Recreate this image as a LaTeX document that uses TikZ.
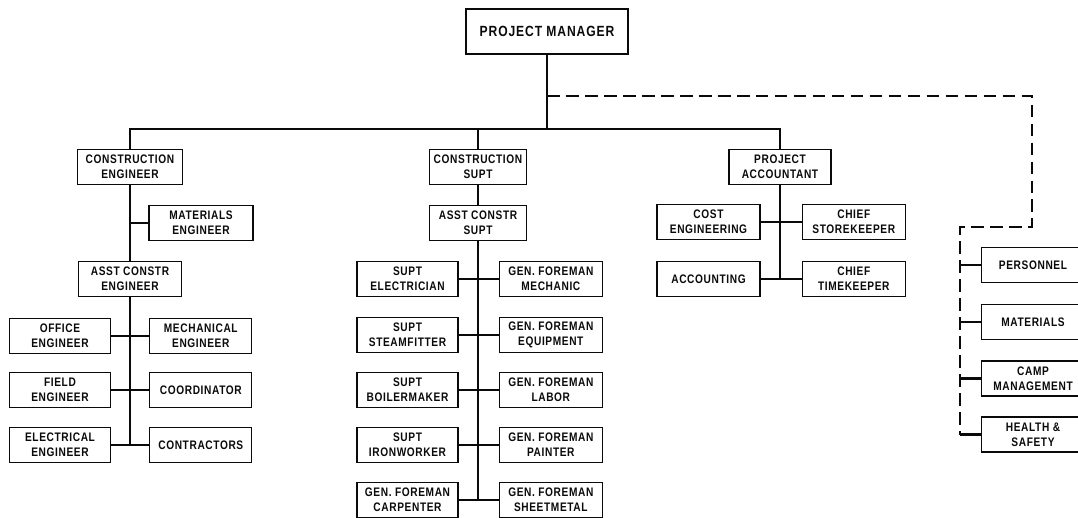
\documentclass[tikz,border=0pt]{standalone}
\usepackage{fontspec}
\setsansfont{Liberation Sans}[FakeStretch=0.82, LetterSpace=5]
\newfontfamily\widesans{Liberation Sans}[FakeStretch=0.82, LetterSpace=6]
\usetikzlibrary{positioning}
\definecolor{clrborder}{HTML}{0A0A0A}
\definecolor{clrtext}{HTML}{0A0A0A}

\begin{document}
\begin{tikzpicture}[
    x=0.025cm, y=-0.025cm,
    every node/.style={font=\sffamily\bfseries},
    block/.style={draw=clrborder, line width=0.9pt, minimum width=2.575cm,
                  minimum height=0.875cm, inner sep=1pt, align=center,
                  font=\sffamily\bfseries\fontsize{8.8}{10.8}\selectfont, text=clrtext},
    link/.style={draw=clrborder, line width=1.5pt},
    dashlink/.style={draw=clrborder, line width=1.5pt, dash pattern=on 9pt off 4.5pt},
]
\clip (0,0) rectangle (1078,518);
% head of the project
\node[block, minimum width=4.05cm, minimum height=1.125cm, font=\widesans\bfseries\fontsize{10.5}{12}\selectfont] (n_pm) at (547,31.5) {PROJECT MANAGER};
\coordinate (tap) at (547,96);
\coordinate (bus) at (547,129);
\coordinate (turn) at (1032,227);
\coordinate (side) at (960,227);
% engineering branch
\node[block, minimum width=2.625cm] (n_ce) at (130,167) {CONSTRUCTION\\ENGINEER};
\node[block, minimum width=2.6cm] (n_me) at (201,223) {MATERIALS\\ENGINEER};
\node[block] (n_ace) at (130,279) {ASST CONSTR\\ENGINEER};
\node[block, minimum width=2.525cm] (n_oe) at (60,336) {OFFICE\\ENGINEER};
\node[block, minimum width=2.55cm, right=0.95cm of n_oe] (n_mech) {MECHANICAL\\ENGINEER};
\node[block, minimum width=2.525cm] (n_fe) at (60,390) {FIELD\\ENGINEER};
\node[block, minimum width=2.55cm, right=0.95cm of n_fe] (n_coord) {COORDINATOR};
\node[block, minimum width=2.525cm] (n_ee) at (60,445) {ELECTRICAL\\ENGINEER};
\node[block, minimum width=2.55cm, right=0.95cm of n_ee] (n_contr) {CONTRACTORS};
% construction branch
\node[block, minimum width=2.425cm] (n_cs) at (478,167) {CONSTRUCTION\\SUPT};
\node[block, minimum width=2.425cm] (n_acs) at (478,223) {ASST CONSTR\\SUPT};
\node[block, minimum width=2.525cm] (n_s1) at (407.5,279) {SUPT\\ELECTRICIAN};
\node[block, right=1cm of n_s1] (n_g1) {GEN. FOREMAN\\MECHANIC};
\node[block, minimum width=2.525cm] (n_s2) at (407.5,335) {SUPT\\STEAMFITTER};
\node[block, right=1cm of n_s2] (n_g2) {GEN. FOREMAN\\EQUIPMENT};
\node[block, minimum width=2.525cm] (n_s3) at (407.5,390) {SUPT\\BOILERMAKER};
\node[block, right=1cm of n_s3] (n_g3) {GEN. FOREMAN\\LABOR};
\node[block, minimum width=2.525cm] (n_s4) at (407.5,445) {SUPT\\IRONWORKER};
\node[block, right=1cm of n_s4] (n_g4) {GEN. FOREMAN\\PAINTER};
\node[block, minimum width=2.525cm] (n_s5) at (407.5,500) {GEN. FOREMAN\\CARPENTER};
\node[block, right=1cm of n_s5] (n_g5) {GEN. FOREMAN\\SHEETMETAL};
% accounting branch
\node[block, minimum width=2.55cm] (n_pa) at (780,167) {PROJECT\\ACCOUNTANT};
\node[block] (n_cost) at (708.5,222) {COST\\ENGINEERING};
\node[block, right=1.025cm of n_cost] (n_store) {CHIEF\\STOREKEEPER};
\node[block] (n_acct) at (708.5,279) {ACCOUNTING};
\node[block, right=1.025cm of n_acct] (n_time) {CHIEF\\TIMEKEEPER};
% staff services
\node[block] (n_pers) at (1033,265) {PERSONNEL};
\node[block] (n_mat) at (1033,322) {MATERIALS};
\node[block] (n_camp) at (1033,378.5) {CAMP\\MANAGEMENT};
\node[block] (n_hs) at (1033,434.5) {HEALTH \&\\SAFETY};
% line connections
\draw[link] (n_pm.south) -- (bus);
\draw[link] (n_ce.north) |- (bus) -| (n_pa.north);
\draw[link] (n_cs.north) -- (n_cs.north |- bus);
\draw[link] (n_ce.south) -- (n_ace.north);
\draw[link] (n_me.west) -- (n_me.west -| n_ce.south);
\draw[link] (n_ace.south) -- (n_ace.south |- n_ee.east);
\draw[link] (n_oe.east) -- (n_mech.west);
\draw[link] (n_fe.east) -- (n_coord.west);
\draw[link] (n_ee.east) -- (n_contr.west);
\draw[link] (n_cs.south) -- (n_acs.north);
\draw[link] (n_acs.south) -- (n_acs.south |- n_s5.east);
\draw[link] (n_s1.east) -- (n_g1.west);
\draw[link] (n_s2.east) -- (n_g2.west);
\draw[link] (n_s3.east) -- (n_g3.west);
\draw[link] (n_s4.east) -- (n_g4.west);
\draw[link] (n_s5.east) -- (n_g5.west);
\draw[link] (n_pa.south) -- (n_pa.south |- n_acct.east);
\draw[link] (n_cost.east) -- (n_store.west);
\draw[link] (n_acct.east) -- (n_time.west);
% staff connection
\draw[dashlink] (tap) -| (turn) -- (side) -- (side |- n_hs.west);
\draw[link] (side |- n_pers.west) -- (n_pers.west);
\draw[link] (side |- n_mat.west) -- (n_mat.west);
\draw[link] (side |- n_camp.west) -- (n_camp.west);
\draw[link] (side |- n_hs.west) -- (n_hs.west);
\end{tikzpicture}
\end{document}
